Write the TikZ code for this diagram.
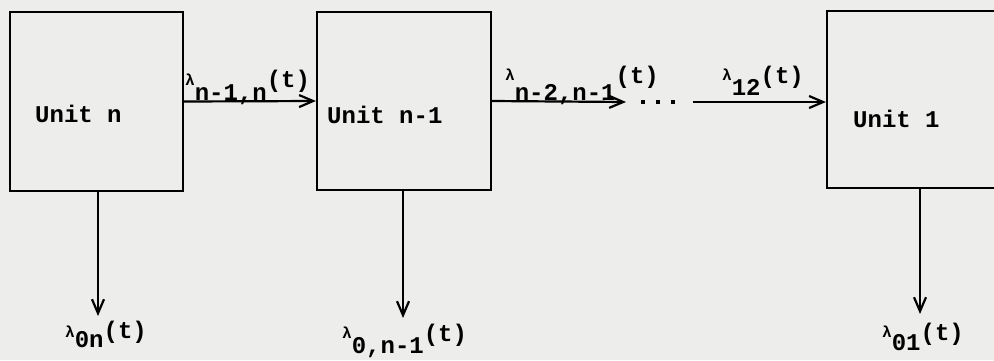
\documentclass[tikz,border=0pt]{standalone}
\usepackage{fontspec}
\setmonofont{Liberation Mono}
\usetikzlibrary{arrows.meta}
\definecolor{paper}{RGB}{237,237,235}
\newcommand\lamsym{{\fontsize{16}{16}\selectfont λ}}
\newcommand\rt[3]{\lamsym\raisebox{-#2pt}{#1}\raisebox{-#3pt}{(t)}}
\begin{document}
\begin{tikzpicture}[x=1pt,y=-1pt,
  every node/.style={font=\fontsize{24}{28}\selectfont\ttfamily\bfseries},
  box/.style={draw,line width=2.2pt,minimum width=173pt,inner sep=0pt},
  txt/.style={anchor=base west,inner sep=0pt},
  arr/.style={line width=2.2pt,-{Straight Barb[length=14pt,width=12pt,line width=2.2pt]}},
  dotn/.style={rectangle,fill=black,inner sep=0pt,minimum size=3.4pt}]
\fill[paper] (0,0) rectangle (994,360);
\useasboundingbox (0,0) rectangle (994,360);
\clip (0,0) rectangle (994,360);
% boxes
\node[box,minimum height=179pt] (b1) at (96.5,101.5) {};
\node[box,minimum height=178pt,minimum width=174pt] (b2) at (404,101) {};
\node[box,minimum height=177pt,minimum width=174pt] (b3) at (914,99.5) {};
% box texts
\node[txt] (t1) at (35,122) {Unit n};
\node[txt] (t2) at (327,123) {Unit n-1};
\node[txt] (t3) at (853,127) {Unit 1};
% free ends
\coordinate (c2) at (626,102);
\coordinate (c3) at (693,102);
\coordinate (e1) at (98,316);
\coordinate (e2) at (403,318);
\coordinate (e3) at (920,314);
% dots
\node[dotn] (d1) at (643,102) {};
\node[dotn] (d2) at (658,102) {};
\node[dotn] (d3) at (673,102) {};
% horizontal arrows
\draw[arr] (b1.east) -- (b2.west);
\draw[arr] (b2.east) -- (c2);
\draw[arr] (c3) -- (c3 -| b3.west);
% vertical arrows
\draw[arr] (b1.south -| e1) -- (e1);
\draw[arr] (b2.south -| e2) -- (e2);
\draw[arr] (b3.south -| e3) -- (e3);
% rate labels
\node[txt] (l1) at (185,85) {\rt{n-1,n}{15}{2}};
\node[txt] (l2) at (505,80) {\rt{n-2,n-1}{20}{3}};
\node[txt] (l3) at (722,80) {\rt{12}{15}{3}};
\node[txt] (l4) at (65,337) {\rt{0n}{10}{1}};
\node[txt] (l5) at (342,338) {\rt{0,n-1}{15}{3}};
\node[txt] (l6) at (882,337) {\rt{01}{13}{3}};
\end{tikzpicture}
\end{document}
